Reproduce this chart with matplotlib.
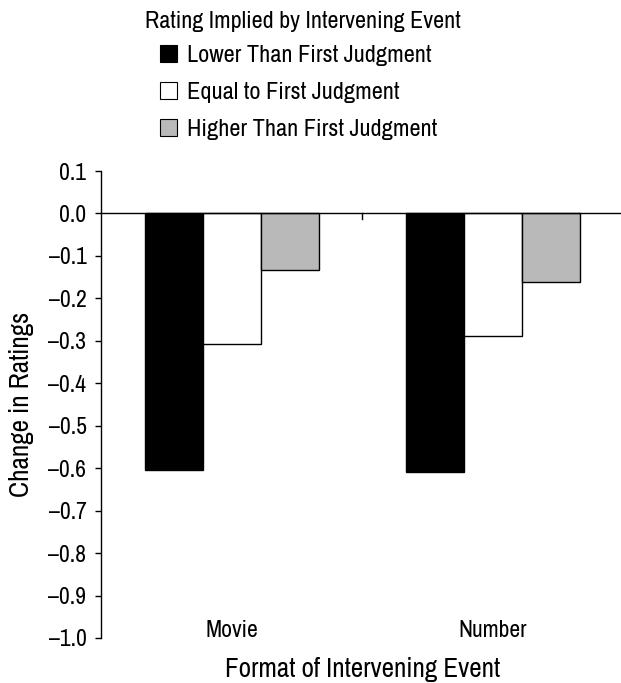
import numpy as np
import matplotlib.pyplot as plt
from matplotlib.patches import Patch

plt.rcParams['font.family'] = ['Archivo Narrow', 'Roboto Condensed', 'DejaVu Sans']
plt.rcParams['font.size'] = 17

formats = ["Movie", "Number"]
series = ["Lower Than First Judgment", "Equal to First Judgment", "Higher Than First Judgment"]
lower = [-0.605, -0.61]
equal = [-0.308, -0.288]
higher = [-0.133, -0.162]
colors = ["black", "white", "#b9b9b9"]
yticks = np.round(np.arange(-1.0, 0.11, 0.1), 1)

W, H = 621, 683
fig = plt.figure(figsize=(W / 100, H / 100), dpi=100)
ax = fig.add_axes([101 / W, 1 - 638 / H, 520 / W, (638 - 171) / H])

x = np.arange(len(formats))
w = 0.222
for i, (vals, c) in enumerate(zip([lower, equal, higher], colors)):
    ax.bar(x + (i - 1) * w, vals, w, color=c, edgecolor="black", linewidth=1.0, zorder=2)

ax.set_xlim(-0.5, 1.49)
ax.set_ylim(-1.0, 0.1)
ax.axhline(0, color="black", linewidth=1.0, zorder=3)
ax.plot([0.5, 0.5], [0, -0.012], color="black", linewidth=1.0, zorder=3)

for s in ["top", "right", "bottom"]:
    ax.spines[s].set_visible(False)
ax.spines["left"].set_linewidth(1.0)
ax.set_xticks([])
ax.set_yticks(yticks)
ax.set_yticklabels([f"{v + 0.0:.1f}".replace("-", "\u2013") for v in yticks])
ax.tick_params(axis="y", length=4.5, width=1.0, pad=6)

for xp, name in zip(x, formats):
    ax.text(xp, -0.997, name, ha="center", va="baseline")

ax.set_ylabel("Change in Ratings", va="center", fontsize=19.5)
ax.yaxis.set_label_coords(-0.152, 0.5)
fig.text(363 / W, 1 - 677 / H, "Format of Intervening Event", ha="center", va="baseline", fontsize=19.5)

fig.text(145 / W, 1 - 27.7 / H, "Rating Implied by Intervening Event", ha="left", va="baseline", fontsize=17.3)
handles = [Patch(facecolor=c, edgecolor="black", linewidth=0.8) for c in colors]
fig.legend(handles, series, loc="upper left", bbox_to_anchor=(160 / W, 1 - 45 / H),
           frameon=False, fontsize=17.5, handlelength=0.7, handleheight=0.7,
           handletextpad=0.4, labelspacing=0.66, borderpad=0, borderaxespad=0)

fig.savefig("out.png", dpi=100)
